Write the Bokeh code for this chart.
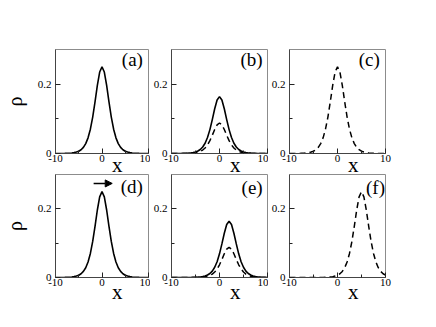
import math
from bokeh.plotting import figure
from bokeh.layouts import column, row
from bokeh.models import FixedTicker, Label, Arrow, NormalHead, Range1d, LinearAxis
from bokeh.embed import file_html
from bokeh.resources import INLINE

# ---------------- data ----------------
x_vals = [-10.0, -9.5, -9.0, -8.5, -8.0, -7.5, -7.0, -6.5, -6.0, -5.5, -5.0,
          -4.5, -4.0, -3.5, -3.0, -2.5, -2.0, -1.5, -1.0, -0.5, 0.0,
          0.5, 1.0, 1.5, 2.0, 2.5, 3.0, 3.5, 4.0, 4.5, 5.0,
          5.5, 6.0, 6.5, 7.0, 7.5, 8.0, 8.5, 9.0, 9.5, 10.0]

rho_a = [0.0, 0.0001, 0.0001, 0.0002, 0.0003, 0.0006, 0.0009, 0.0015, 0.0025, 0.0041, 0.0066,
         0.0109, 0.0177, 0.0285, 0.0452, 0.0701, 0.1050, 0.1492, 0.1966, 0.2350, 0.2500,
         0.2350, 0.1966, 0.1492, 0.1050, 0.0701, 0.0452, 0.0285, 0.0177, 0.0109, 0.0066,
         0.0041, 0.0025, 0.0015, 0.0009, 0.0006, 0.0003, 0.0002, 0.0001, 0.0001, 0.0]

rho_b_solid = [0.0, 0.0, 0.0001, 0.0001, 0.0002, 0.0004, 0.0006, 0.0010, 0.0016, 0.0027, 0.0043,
               0.0072, 0.0116, 0.0187, 0.0297, 0.0460, 0.0689, 0.0979, 0.1290, 0.1542, 0.1640,
               0.1542, 0.1290, 0.0979, 0.0689, 0.0460, 0.0297, 0.0187, 0.0116, 0.0072, 0.0043,
               0.0027, 0.0016, 0.0010, 0.0006, 0.0004, 0.0002, 0.0001, 0.0001, 0.0, 0.0]

rho_b_dashed = [0.0, 0.0, 0.0, 0.0001, 0.0001, 0.0002, 0.0003, 0.0005, 0.0009, 0.0014, 0.0023,
                0.0038, 0.0062, 0.0100, 0.0159, 0.0247, 0.0370, 0.0525, 0.0692, 0.0827, 0.0880,
                0.0827, 0.0692, 0.0525, 0.0370, 0.0247, 0.0159, 0.0100, 0.0062, 0.0038, 0.0023,
                0.0014, 0.0009, 0.0005, 0.0003, 0.0002, 0.0001, 0.0001, 0.0, 0.0, 0.0]

rho_c = [0.0, 0.0001, 0.0001, 0.0002, 0.0003, 0.0006, 0.0009, 0.0015, 0.0025, 0.0041, 0.0066,
         0.0109, 0.0177, 0.0285, 0.0452, 0.0701, 0.1050, 0.1492, 0.1966, 0.2350, 0.2500,
         0.2350, 0.1966, 0.1492, 0.1050, 0.0701, 0.0452, 0.0285, 0.0177, 0.0109, 0.0066,
         0.0041, 0.0025, 0.0015, 0.0009, 0.0006, 0.0003, 0.0002, 0.0001, 0.0001, 0.0]

rho_d = [0.0, 0.0001, 0.0001, 0.0002, 0.0003, 0.0006, 0.0009, 0.0015, 0.0025, 0.0041, 0.0066,
         0.0109, 0.0177, 0.0285, 0.0452, 0.0701, 0.1050, 0.1492, 0.1966, 0.2350, 0.2500,
         0.2350, 0.1966, 0.1492, 0.1050, 0.0701, 0.0452, 0.0285, 0.0177, 0.0109, 0.0066,
         0.0041, 0.0025, 0.0015, 0.0009, 0.0006, 0.0003, 0.0002, 0.0001, 0.0001, 0.0]

rho_e_solid = [0.0, 0.0, 0.0, 0.0, 0.0, 0.0, 0.0001, 0.0001, 0.0002, 0.0004, 0.0006,
               0.0010, 0.0016, 0.0027, 0.0043, 0.0072, 0.0116, 0.0187, 0.0297, 0.0460, 0.0689,
               0.0979, 0.1290, 0.1542, 0.1640, 0.1542, 0.1290, 0.0979, 0.0689, 0.0460, 0.0297,
               0.0187, 0.0116, 0.0072, 0.0043, 0.0027, 0.0016, 0.0010, 0.0006, 0.0004, 0.0002]

rho_e_dashed = [0.0, 0.0, 0.0, 0.0, 0.0, 0.0, 0.0, 0.0001, 0.0001, 0.0002, 0.0003,
                0.0005, 0.0009, 0.0014, 0.0023, 0.0038, 0.0062, 0.0100, 0.0159, 0.0247, 0.0370,
                0.0525, 0.0692, 0.0827, 0.0880, 0.0827, 0.0692, 0.0525, 0.0370, 0.0247, 0.0159,
                0.0100, 0.0062, 0.0038, 0.0023, 0.0014, 0.0009, 0.0005, 0.0003, 0.0002, 0.0001]

rho_f = [0.0, 0.0, 0.0, 0.0, 0.0, 0.0, 0.0, 0.0, 0.0, 0.0, 0.0,
         0.0001, 0.0001, 0.0002, 0.0003, 0.0006, 0.0009, 0.0015, 0.0025, 0.0041, 0.0066,
         0.0109, 0.0177, 0.0285, 0.0452, 0.0701, 0.1050, 0.1492, 0.1966, 0.2350, 0.2500,
         0.2350, 0.1966, 0.1492, 0.1050, 0.0701, 0.0452, 0.0285, 0.0177, 0.0109, 0.0066]

x_ticks = [-10, 0, 10]
x_tick_labels = ["-10", "0", "10"]
x_minor = [-5, 5]
y_ticks = [0, 0.2]
y_tick_labels = ["0", "0.2"]
y_minor = [0.1]
panel_tags = ["(a)", "(b)", "(c)", "(d)", "(e)", "(f)"]
x_label = "x"
x_label_pos = 3.3
y_label = "\u03c1"
arrow_x = [-1.8, 2.2]
arrow_y = 0.274

# ---------------- styling ----------------
FONT = "Liberation Serif"


def make_panel(width, height, bl, br, bt, bb, solid, dashed, tag, tag_x, tag_y,
               xlab_standoff, ylab=False):
    p = figure(width=width, height=height,
               x_range=Range1d(-10, 10), y_range=Range1d(0, 0.3),
               output_backend="svg", toolbar_location=None,
               min_border_left=bl, min_border_right=br,
               min_border_top=bt, min_border_bottom=bb)
    p.grid.visible = False
    p.outline_line_color = "#8c8c8c"
    p.outline_line_width = 1
    p.background_fill_color = "white"
    p.border_fill_color = "white"

    p.xaxis.ticker = FixedTicker(ticks=x_ticks, minor_ticks=x_minor)
    p.yaxis.ticker = FixedTicker(ticks=y_ticks, minor_ticks=y_minor)
    p.xaxis.major_label_overrides = dict(zip(x_ticks, x_tick_labels))
    p.yaxis.major_label_overrides = dict(zip(y_ticks, y_tick_labels))
    for ax in (p.xaxis, p.yaxis):
        ax.axis_line_color = "#444444"
        ax.axis_line_width = 1
        ax.major_tick_line_color = "#222222"
        ax.minor_tick_line_color = "#222222"
        ax.major_tick_in = 5
        ax.major_tick_out = 0
        ax.minor_tick_in = 3
        ax.minor_tick_out = 0
        ax.major_label_text_font = FONT
        ax.major_label_text_font_size = "11px"
        ax.major_label_text_color = "black"
    p.xaxis.major_label_standoff = 1
    p.yaxis.major_label_standoff = 4

    # x label drawn as the single tick label of a bare second axis
    xl_axis = LinearAxis(ticker=FixedTicker(ticks=[x_label_pos], minor_ticks=[]),
                         major_label_overrides={x_label_pos: x_label},
                         axis_line_color=None, major_tick_line_color=None,
                         minor_tick_line_color=None,
                         major_label_text_font=FONT,
                         major_label_text_font_size="21px",
                         major_label_text_color="black",
                         major_label_standoff=xlab_standoff)
    p.add_layout(xl_axis, "below")

    if ylab:
        p.yaxis.axis_label = y_label
        p.yaxis.axis_label_text_font = FONT
        p.yaxis.axis_label_text_font_size = "20px"
        p.yaxis.axis_label_text_font_style = "normal"
        p.yaxis.axis_label_text_color = "black"
        p.yaxis.axis_label_standoff = 9

    if solid is not None:
        p.line(x_vals, solid, line_color="black", line_width=1.6)
    if dashed is not None:
        p.line(x_vals, dashed, line_color="black", line_width=1.5, line_dash="6 4")

    p.add_layout(Label(x=tag_x, y=tag_y, text=tag, text_font=FONT,
                       text_font_size="19px", text_align="right",
                       text_baseline="alphabetic", text_color="black"))
    return p


# row 1: frame 49..153, bottom border holds tick labels and the x label
pa = make_panel(150, 180, 51, 2, 49, 27, rho_a, None, panel_tags[0], 8.8, 0.270, -18, ylab=True)
pb = make_panel(118, 180, 18, 1, 49, 27, rho_b_solid, rho_b_dashed, panel_tags[1], 9.0, 0.270, -18)
pc = make_panel(127, 180, 18, 10, 49, 27, None, rho_c, panel_tags[2], 8.8, 0.270, -18)

# row 2: pulled up so that its frame starts at 174
pd = make_panel(150, 133, 51, 2, 0, 30, rho_d, None, panel_tags[3], 8.8, 0.264, -15, ylab=True)
pe = make_panel(118, 133, 18, 1, 0, 30, rho_e_solid, rho_e_dashed, panel_tags[4], 9.0, 0.261, -15)
pf = make_panel(127, 133, 18, 10, 0, 30, None, rho_f, panel_tags[5], 9.9, 0.261, -15)

pd.add_layout(Arrow(end=NormalHead(size=7, fill_color="black", line_color="black"),
                    x_start=arrow_x[0], y_start=arrow_y, x_end=arrow_x[1], y_end=arrow_y,
                    line_width=1.5, line_color="black"))

row1 = row(pa, pb, pc)
row2 = row(pd, pe, pf, margin=(-6, 0, 0, 0))
layout = column(row1, row2)

with open("out.html", "w") as f:
    f.write(file_html(layout, INLINE))
